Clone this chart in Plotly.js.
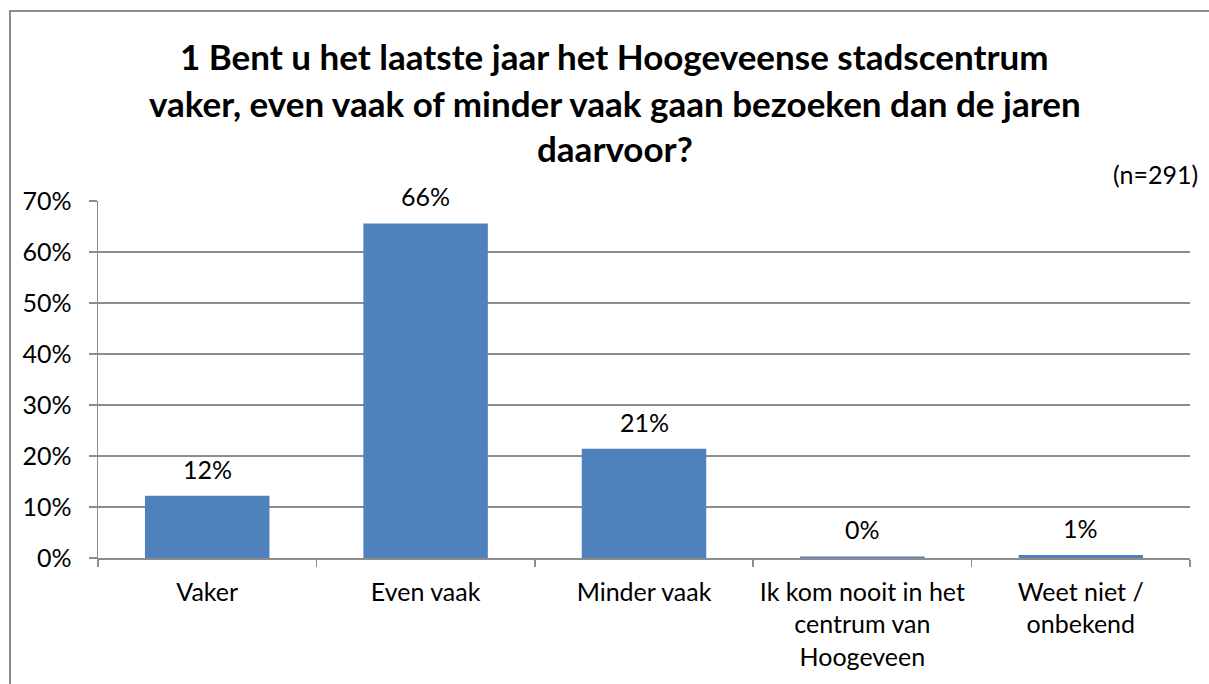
<!DOCTYPE html>
<html>
<head>
<meta charset="utf-8">
<script src="https://cdn.plot.ly/plotly-3.0.1.min.js"></script>
<style>
  html, body { margin: 0; padding: 0; background: #ffffff; }
  #wrap { position: relative; width: 1209px; height: 684px; overflow: hidden; }
  #chart { position: absolute; left: 0; top: 0; width: 1209px; height: 684px; }
  #frame { position: absolute; left: 9px; top: 10px; width: 1300px; height: 800px;
           border-left: 2px solid #8c8c8c; border-top: 2px solid #8c8c8c; pointer-events: none; }
</style>
</head>
<body>
<div id="wrap">
  <div id="chart"></div>
  <div id="frame"></div>
</div>
<script>
const categories = ["Vaker", "Even vaak", "Minder vaak", "Ik kom nooit in het<br>centrum van<br>Hoogeveen", "Weet niet /<br>onbekend"];
const values = [0.122, 0.656, 0.214, 0.003, 0.006];
const valueLabels = ["12%", "66%", "21%", "0%", "1%"];
const titleLines = [
  "1 Bent u het laatste jaar het Hoogeveense stadscentrum",
  "vaker, even vaak of minder vaak gaan bezoeken dan de jaren",
  "daarvoor?"
];
const note = "(n=291)";
const yTickVals = [0, 0.1, 0.2, 0.3, 0.4, 0.5, 0.6, 0.7];

const FONT = "Lato, 'Open Sans', sans-serif";
const GRID = "#8c8c8c";
const FS = 25;

const trace = {
  type: "bar",
  x: categories,
  y: values,
  marker: { color: "#4f81bd", line: { width: 0 } },
  width: 0.57,
  hoverinfo: "skip"
};

const annotations = [];
const titleY = [1.4062, 1.2745, 1.1485];
titleLines.forEach((t, i) => {
  annotations.push({
    text: t, xref: "paper", yref: "paper", x: 0.4734, y: titleY[i],
    xanchor: "center", yanchor: "middle", showarrow: false,
    font: { family: FONT, size: 35, color: "#000", weight: "bold" }
  });
});
annotations.push({
  text: note, xref: "paper", yref: "paper", x: 1.0092, y: 1.0770,
  xanchor: "right", yanchor: "middle", showarrow: false,
  font: { family: FONT, size: FS, color: "#000" }
});
categories.forEach((c, i) => {
  annotations.push({
    text: valueLabels[i], x: c, y: values[i], xref: "x", yref: "y",
    xanchor: "center", yanchor: "middle", yshift: 27, showarrow: false,
    font: { family: FONT, size: FS, color: "#000" }
  });
});

const layout = {
  width: 1209, height: 684,
  margin: { l: 98, r: 19, t: 201, b: 126 },
  paper_bgcolor: "rgba(0,0,0,0)",
  plot_bgcolor: "#ffffff",
  showlegend: false,
  font: { family: FONT, size: FS, color: "#000" },
  xaxis: {
    type: "category",
    tickson: "boundaries",
    ticks: "outside", ticklen: 7, tickcolor: GRID, tickwidth: 1.5,
    showline: true, linecolor: GRID, linewidth: 1.5,
    showgrid: false, zeroline: false,
    tickfont: { family: FONT, size: FS, color: "#000" },
    ticklabelstandoff: 11,
    fixedrange: true
  },
  yaxis: {
    range: [0, 0.7],
    tickvals: yTickVals,
    tickformat: ".0%",
    ticks: "outside", ticklen: 8, tickcolor: GRID, tickwidth: 1.5,
    showline: true, linecolor: GRID, linewidth: 1.5,
    showgrid: true, gridcolor: GRID, gridwidth: 1.5,
    zeroline: false,
    tickfont: { family: FONT, size: FS, color: "#000" },
    ticklabelstandoff: 12,
    fixedrange: true
  },
  annotations: annotations
};

Plotly.newPlot("chart", [trace], layout, { displayModeBar: false, staticPlot: true });
</script>
</body>
</html>
